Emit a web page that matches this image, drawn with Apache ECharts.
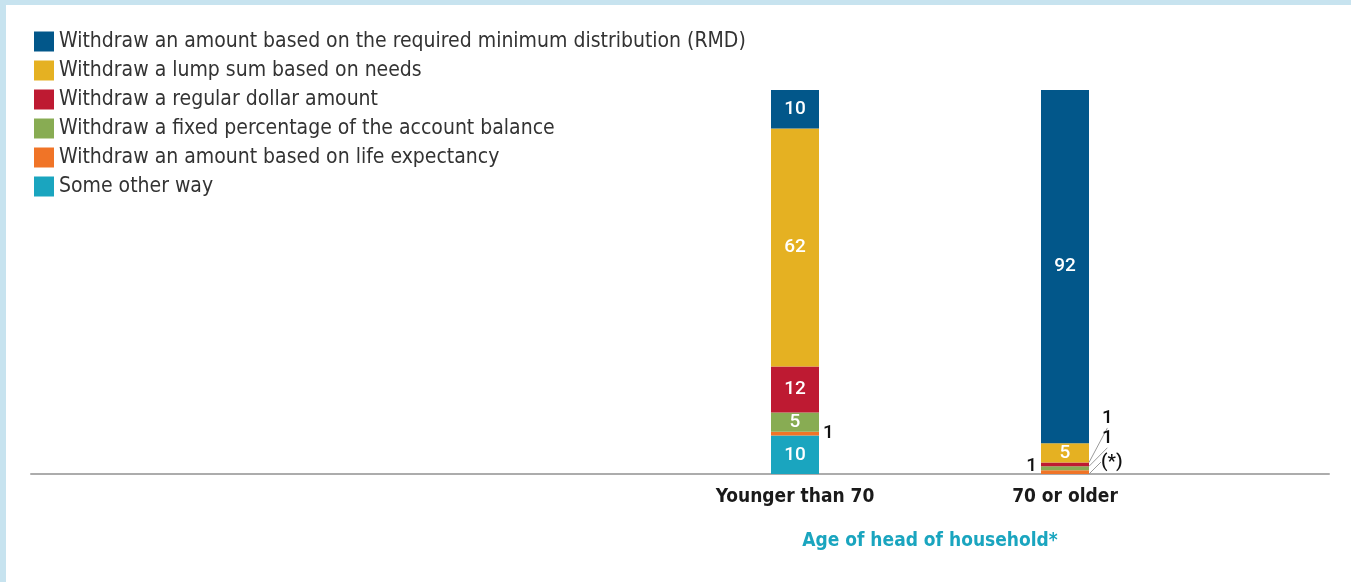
<!DOCTYPE html>
<html>
<head>
<meta charset="utf-8">
<script src="https://cdn.jsdelivr.net/npm/echarts@6/dist/echarts.min.js"></script>
<style>
  html, body { margin: 0; padding: 0; background: #c7e3ef; }
  #frame { position: absolute; left: 6px; top: 5px; width: 1345px; height: 577px; background: #fff; }
  #chart { width: 1351px; height: 582px; position: absolute; left: -6px; top: -5px; }
</style>
</head>
<body>
<div id="frame"><div id="chart"></div></div>
<script>
// age groups
const categories = ['Younger than 70', '70 or older']

// percent of households, per withdrawal method
const rmd = [10, 92]
const lumpSum = [62, 5]
const regularAmount = [12, 1]
const fixedPct = [5, 1]
const lifeExpectancy = [1, 1]
const otherWay = [10, 0]
const otherWayText = ['10', '(*)'] // (*) = less than 0.5 percent

const names = [
  'Withdraw an amount based on the required minimum distribution (RMD)',
  'Withdraw a lump sum based on needs',
  'Withdraw a regular dollar amount',
  'Withdraw a fixed percentage of the account balance',
  'Withdraw an amount based on life expectancy',
  'Some other way'
]
const colors = ['#02578a', '#e5b122', '#be1a32', '#88ac53', '#f07427', '#1aa5bf']

const legendFont = "'Liberation Sans Narrow', 'DejaVu Sans Condensed', sans-serif"
const labelFont = "Roboto, 'Noto Sans', sans-serif"

const inside = {
  show: true,
  position: 'inside',
  color: '#fff',
  fontSize: 19,
  fontWeight: 500,
  fontFamily: labelFont
}
const outside = {
  show: true,
  position: 'right',
  distance: 4,
  color: '#111',
  fontSize: 19,
  fontWeight: 500,
  fontFamily: labelFont
}
const guide = { show: true, lineStyle: { color: '#9a9a9a', width: 1 } }

function bar(name, values, color, labels) {
  return {
    name: name,
    type: 'bar',
    stack: 'all',
    barWidth: 48,
    xAxisIndex: 0,
    yAxisIndex: 0,
    itemStyle: { color: color },
    data: values.map((v, i) => {
      const item = { value: v }
      if (labels && labels[i]) item.label = labels[i]
      return item
    }),
    label: inside,
    emphasis: { disabled: true }
  }
}

// small segments of the second bar get moved labels with guide lines
const moved = {
  'Withdraw a regular dollar amount': { dx: 9, dy: -46 },
  'Withdraw a fixed percentage of the account balance': { dx: 9, dy: -30 },
  'Some other way': { dx: 8, dy: -12 }
}

const series = [
  bar(names[5], otherWay, colors[5], [null, Object.assign({}, outside, { formatter: otherWayText[1] })]),
  bar(names[4], lifeExpectancy, colors[4], [outside, Object.assign({}, outside, { position: 'left', offset: [0, -6] })]),
  bar(names[3], fixedPct, colors[3], [null, outside]),
  bar(names[2], regularAmount, colors[2], [null, outside]),
  bar(names[1], lumpSum, colors[1]),
  bar(names[0], rmd, colors[0])
]
series[0].label = Object.assign({}, inside, { formatter: (p) => otherWayText[p.dataIndex] })
series.forEach((s) => {
  if (moved[s.name]) {
    s.data[1].labelLine = guide
    s.labelLayout = (p) => (p.dataIndex === 1 ? moved[s.name] : {})
  }
})

const option = {
  animation: false,
  backgroundColor: 'transparent',
  legend: {
    orient: 'vertical',
    left: 34,
    top: 31,
    padding: 0,
    itemWidth: 20,
    itemHeight: 20,
    itemGap: 8,
    icon: 'rect',
    selectedMode: false,
    data: names,
    textStyle: {
      color: '#333',
      fontSize: 21,
      fontFamily: legendFont
    }
  },
  grid: [
    { left: 660, right: 151, top: 90, bottom: 108 },
    { left: 31, right: 22, top: 90, bottom: 108 }
  ],
  xAxis: [
    {
      type: 'category',
      gridIndex: 0,
      data: categories,
      axisLine: { show: false },
      axisTick: { show: false },
      axisLabel: {
        margin: 14,
        color: '#1a1a1a',
        fontSize: 19,
        fontWeight: 'bold',
        fontFamily: legendFont
      },
      name: 'Age of head of household*',
      nameLocation: 'middle',
      nameGap: 58,
      nameTextStyle: {
        color: '#1aa5bf',
        fontSize: 19,
        fontWeight: 'bold',
        fontFamily: legendFont
      }
    },
    {
      type: 'value',
      gridIndex: 1,
      min: 0,
      max: 1,
      axisLine: { show: true, lineStyle: { color: '#acacac', width: 2 } },
      axisTick: { show: false },
      axisLabel: { show: false },
      splitLine: { show: false }
    }
  ],
  yAxis: [
    { type: 'value', gridIndex: 0, min: 0, max: 100, show: false },
    { type: 'value', gridIndex: 1, min: 0, max: 100, show: false }
  ],
  series: series
}

const chart = echarts.init(document.getElementById('chart'))
chart.setOption(option)
</script>
</body>
</html>
